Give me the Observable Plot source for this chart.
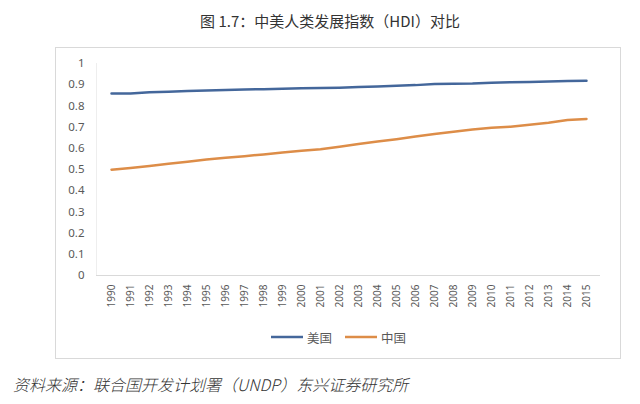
<!DOCTYPE html>
<html><head><meta charset="utf-8">
<script src="https://cdn.jsdelivr.net/npm/d3@7"></script>
<script src="https://cdn.jsdelivr.net/npm/@observablehq/plot@0.6"></script>
<style>
body{margin:0;background:#fff;width:640px;height:404px;position:relative;overflow:hidden;font-family:"Noto Sans CJK SC","Noto Sans",sans-serif;}
#title{position:absolute;left:0;width:660px;top:10px;text-align:center;font-size:15px;color:#333;}
#frame{position:absolute;left:55px;top:47px;width:564px;height:310px;border:1px solid #d9d9d9;}
#chart{position:absolute;left:0;top:0;}
#legend{position:absolute;left:0;width:564px;top:277px;text-align:center;font-size:12.5px;color:#595959;}
#legend span{display:inline-flex;align-items:center;margin:0 6px;}
#caption{position:absolute;left:13px;top:372px;font-size:16px;font-style:italic;font-weight:300;color:#333;}
</style></head>
<body>
<div id="title">图 1.7：中美人类发展指数（HDI）对比</div>
<div id="frame"><div id="chart"></div><div id="legend"></div></div>
<div id="caption">资料来源：联合国开发计划署（UNDP）东兴证券研究所</div>
<script>
const years = ["1990","1991","1992","1993","1994","1995","1996","1997","1998","1999","2000","2001","2002","2003","2004","2005","2006","2007","2008","2009","2010","2011","2012","2013","2014","2015"];
const usa = [0.858,0.858,0.864,0.867,0.870,0.873,0.875,0.877,0.879,0.881,0.883,0.884,0.886,0.889,0.892,0.895,0.898,0.903,0.905,0.906,0.909,0.912,0.913,0.915,0.917,0.919];
const china = [0.499,0.507,0.517,0.527,0.537,0.547,0.555,0.563,0.571,0.580,0.588,0.596,0.607,0.620,0.632,0.643,0.656,0.667,0.678,0.689,0.697,0.702,0.711,0.720,0.733,0.738];
const seriesNames = ["美国","中国"];
const seriesColors = ["#44679b","#dd8d48"];
const yTicks = [0,0.1,0.2,0.3,0.4,0.5,0.6,0.7,0.8,0.9,1];

const data = [];
years.forEach((y,i)=>{
  data.push({year:y, value:usa[i], series:seriesNames[0]});
  data.push({year:y, value:china[i], series:seriesNames[1]});
});

const chart = Plot.plot({
  width:564, height:262,
  marginLeft:40, marginRight:20, marginTop:15, marginBottom:35,
  style:{fontFamily:"'Noto Sans',sans-serif", color:"#595959", background:"transparent"},
  x:{type:"point", domain:years, padding:0.5, label:null},
  y:{domain:[0,1], label:null},
  color:{domain:seriesNames, range:seriesColors},
  marks:[
    Plot.frame({anchor:"left", stroke:"#eeeeee"}),
    Plot.ruleY([0], {stroke:"#d9d9d9"}),
    Plot.axisY({ticks:yTicks, tickSize:0, tickPadding:12, tickFormat:d=>String(+d.toFixed(1)), fontSize:11.5, fill:"#595959", label:null}),
    Plot.axisX({tickSize:0, tickRotate:-90, tickPadding:9, fontSize:10, fill:"#595959", label:null}),
    Plot.line(data, {x:"year", y:"value", stroke:"series", strokeWidth:2.5})
  ]
});
document.getElementById("chart").appendChild(chart);

const legend = document.getElementById("legend");
seriesNames.forEach((n,i)=>{
  const s = document.createElement("span");
  s.innerHTML = `<svg width="34" height="6" style="margin-right:3px"><line x1="1" y1="3" x2="33" y2="3" stroke="${seriesColors[i]}" stroke-width="2.5"/></svg>${n}`;
  legend.appendChild(s);
});
</script>
</body></html>
